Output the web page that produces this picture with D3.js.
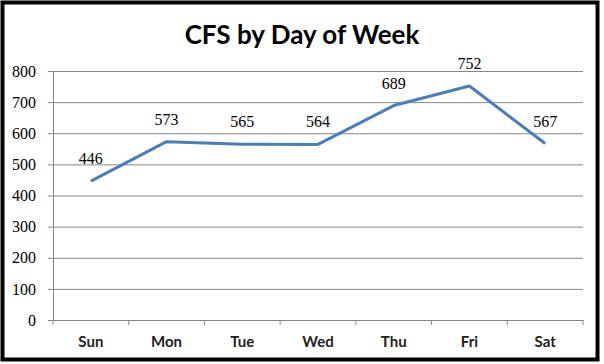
<!DOCTYPE html>
<html><head><meta charset="utf-8">
<script src="https://cdn.jsdelivr.net/npm/d3@7"></script>
<style>body{margin:0;background:#fff}svg{display:block}</style>
</head><body>
<script>
const days = ["Sun","Mon","Tue","Wed","Thu","Fri","Sat"];
const cfs = [446,573,565,564,689,752,567];
const yTicks = [0,100,200,300,400,500,600,700,800];
const title = "CFS by Day of Week";

(function(){
const W = 604, H = 364;
const svg = d3.select("body").append("svg").attr("width", W).attr("height", H);
svg.append("rect").attr("x",0).attr("y",0).attr("width",W).attr("height",H).attr("fill","#fff");
svg.append("rect").attr("x",2.5).attr("y",2.5).attr("width",595).attr("height",357)
  .attr("fill","none").attr("stroke","#000").attr("stroke-width",4);

const pl = 53, pr = 583, pt = 71, pb = 320;
const x = d3.scaleBand().domain(days).range([pl, pr]).padding(0);
const y = d3.scaleLinear().domain([0,800]).range([pb, pt]);

svg.append("text").attr("x", 302).attr("y", 44).attr("text-anchor","middle")
  .attr("font-family","Lato, 'Open Sans', sans-serif").attr("font-weight","bold")
  .attr("font-size", 26).attr("fill","#000").text(title);

const ya = d3.axisLeft(y).tickValues(yTicks).tickSize(5).tickPadding(12).tickFormat(d3.format("d"));
const gy = svg.append("g").attr("transform",`translate(${pl},0)`).call(ya);
gy.select(".domain").attr("stroke","#868686");
gy.selectAll(".tick line").attr("stroke","#868686");
gy.selectAll(".tick text").attr("font-family","'Liberation Serif', serif").attr("font-size",16).attr("fill","#000");
svg.append("g").selectAll("line").data(yTicks.filter(d=>d>0)).join("line")
  .attr("x1",pl).attr("x2",pr).attr("y1",d=>y(d)+0.5).attr("y2",d=>y(d)+0.5)
  .attr("stroke","#868686").attr("stroke-width",1);

const xa = d3.axisBottom(x).tickSize(0).tickPadding(16);
const gx = svg.append("g").attr("transform",`translate(0,${pb})`).call(xa);
gx.select(".domain").attr("stroke","#868686");
gx.selectAll(".tick text").attr("font-family","Lato, 'Open Sans', sans-serif").attr("font-weight","bold")
  .attr("font-size",15).attr("fill","#222");
svg.append("g").selectAll("line").data(d3.range(days.length+1)).join("line")
  .attr("x1",i=>pl + i*x.bandwidth()).attr("x2",i=>pl + i*x.bandwidth())
  .attr("y1",pb).attr("y2",pb+5).attr("stroke","#868686");

const cx = d => x(d) + x.bandwidth()/2;
const line = d3.line().x((d,i)=>cx(days[i])).y(d=>y(d));
svg.append("path").datum(cfs).attr("d",line).attr("fill","none")
  .attr("stroke","#4a7ebb").attr("stroke-width",3).attr("stroke-linejoin","round");

svg.append("g").selectAll("text").data(cfs).join("text")
  .attr("x",(d,i)=>cx(days[i])).attr("y",d=>y(d)-17).attr("text-anchor","middle")
  .attr("font-family","'Liberation Serif', serif").attr("font-size",16).attr("fill","#000")
  .text(d=>d);
})();
</script>
</body></html>
